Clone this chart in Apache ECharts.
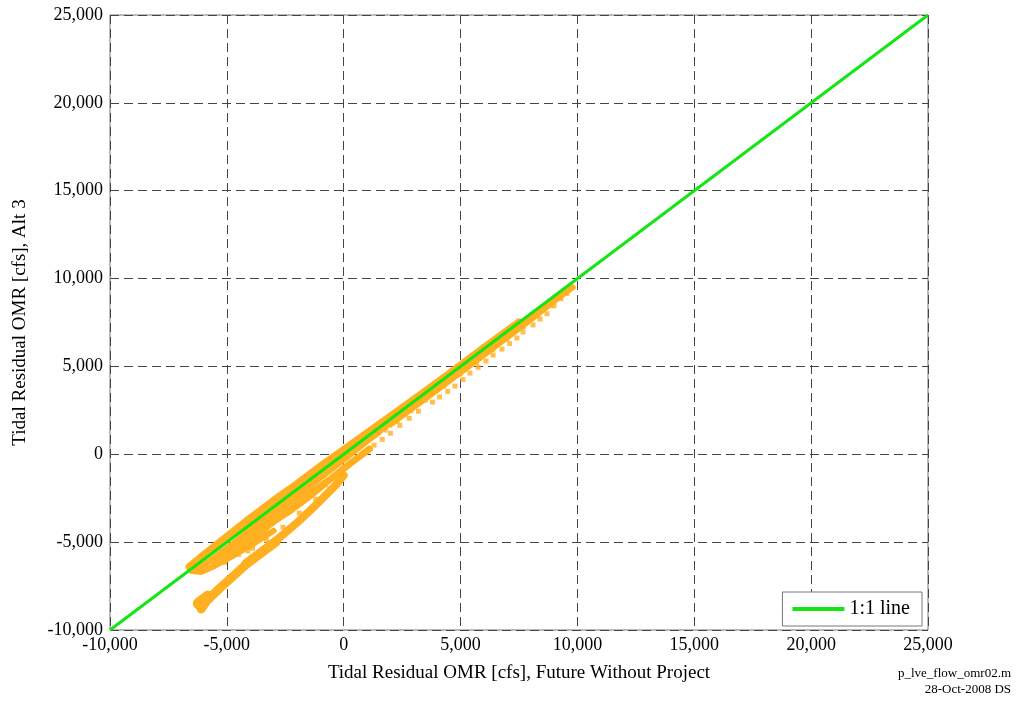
<!DOCTYPE html>
<html><head><meta charset="utf-8">
<script src="https://cdn.jsdelivr.net/npm/echarts@6/dist/echarts.min.js"></script>
<style>html,body{margin:0;padding:0;background:#fff}#c{width:1018px;height:711px}</style>
</head><body><div id="c"></div>
<script>
const xTicks = [-10000, -5000, 0, 5000, 10000, 15000, 20000, 25000];
const yTicks = [-10000, -5000, 0, 5000, 10000, 15000, 20000, 25000];
const oneToOne = [[-10000, -10000], [25000, 25000]];

// orange strands (residual OMR, Alt 3 vs FWOP)
const bandTop = [[-6600,-6400],[-6000,-5750],[-5000,-4700],[-4000,-3650],[-3000,-2650],[-2000,-1700],[-1000,-700],[0,250],[1000,1200],[2000,2150],[3000,3100],[4500,4550],[6000,6050],[7500,7500]];
const bandBelow = [[-6200,-6500],[-5000,-5350],[-4000,-4350],[-3000,-3400],[-2000,-2400],[-1000,-1350],[0,-300],[1000,750],[2000,1800],[3000,2800],[4000,3800],[5000,4800],[6000,5800],[7000,6800],[8000,7750],[9000,8750],[9800,9500]];
const bandDiverge = [[2000,1600],[4000,3550],[6000,5550],[8000,7550],[9600,9250]];
const strandL2 = [[-5200,-5900],[-4400,-5150],[-3500,-4300],[-2500,-3350],[-1500,-2300],[-500,-1350],[300,-500],[1100,300]];
const strandL3 = [[-4500,-5500],[-3600,-4550],[-3000,-3800],[-2300,-3250],[-1500,-2450],[-800,-1700]];
const strandL4 = [[-4200,-6200],[-3500,-5500],[-2800,-4800],[-2000,-3900],[-1200,-2900],[-300,-1700],[0,-1200]];
const strandMid = [[-5600,-6100],[-4700,-5100],[-3800,-4000],[-2800,-2950],[-1800,-1950],[-800,-950],[200,0],[1500,1250]];
const tail = [[-6100,-8800],[-5900,-8400],[-5600,-8000],[-5200,-7500],[-4700,-6900],[-4200,-6300],[-3600,-5700],[-2900,-5000]];
const tailBlob = [[-6200,-8500],[-5800,-8100]];
const hook = [[-6400,-6500],[-6500,-6650],[-6100,-6700],[-5600,-6400],[-4900,-5900],[-4000,-5200],[-3000,-4350]];
const looseDots = [[-4100,-5500],[-4500,-5700],[-3900,-5350],[-5100,-6150],[-3300,-4900],[-2600,-4150],[-1900,-3350],[-1200,-2550],[-600,-1950]];
const dotsLow = [[1300,520],[1650,850],[2000,1200],[2400,1650],[2800,2050],[3200,2450],[3800,2970],[4100,3260],[4450,3580],[4760,3880],[5100,4250],[5400,4620],[5750,4950],[6090,5310],[6390,5650],[6770,5990],[7100,6300],[7410,6620],[7670,6960],[8100,7360],[8400,7700],[8700,8000],[9000,8450],[9300,8850],[9550,9150]];
const dotsMid = [[1800,1350],[2300,1850],[2900,2450],[3500,3050],[4300,3850],[5000,4550],[5700,5200],[6400,5950],[7000,6550],[7700,7250],[8300,7850],[8900,8450]];

const ORANGE = '#ffb020';
const GREEN = '#14e614';
const FONT = '"Liberation Serif", "Times New Roman", serif';
const fmt = v => (v < 0 ? '-' : '') + Math.abs(v).toLocaleString('en-US');

function strand(data, w) {
  return { type: 'line', data, showSymbol: false, silent: true, z: 2,
    lineStyle: { color: ORANGE, width: w, cap: 'round', join: 'round' }, itemStyle: { color: ORANGE } };
}
function dots(data, s) {
  return { type: 'scatter', data, symbol: 'rect', symbolSize: s, z: 2, silent: true, itemStyle: { color: ORANGE } };
}

const chart = echarts.init(document.getElementById('c'), null, { renderer: 'canvas' });
const axisCommon = {
  type: 'value', min: -10000, max: 25000, interval: 5000,
  axisLine: { show: false }, axisTick: { show: false },
  splitLine: { show: true, lineStyle: { color: '#444', type: [9, 5], width: 1 } },
  axisLabel: { color: '#000', fontFamily: FONT, fontSize: 18, formatter: fmt },
  nameTextStyle: { color: '#000', fontFamily: FONT, fontSize: 19 }
};
chart.setOption({
  animation: false,
  backgroundColor: '#fff',
  grid: { left: 110, right: 90, top: 15, bottom: 81, show: true, borderColor: '#777', borderWidth: 1, backgroundColor: '#fff' },
  xAxis: Object.assign({}, axisCommon, {
    name: 'Tidal Residual OMR [cfs], Future Without Project', nameLocation: 'middle', nameGap: 34,
    axisLabel: Object.assign({}, axisCommon.axisLabel, { margin: 6, customValues: xTicks })
  }),
  yAxis: Object.assign({}, axisCommon, {
    name: 'Tidal Residual OMR [cfs], Alt 3', nameLocation: 'middle', nameGap: 80,
    axisLabel: Object.assign({}, axisCommon.axisLabel, { margin: 7, customValues: yTicks })
  }),
  legend: {
    data: ['1:1 line'], right: 96, bottom: 85, orient: 'vertical',
    backgroundColor: '#fff', borderColor: '#777', borderWidth: 1, padding: [7, 12, 7, 10],
    itemWidth: 52, itemHeight: 4, icon: 'rect', itemGap: 0,
    textStyle: { fontFamily: FONT, fontSize: 20, color: '#000' }
  },
  graphic: [
    { type: 'text', right: 7, top: 667, style: { text: 'p_lve_flow_omr02.m', font: '13px ' + FONT, fill: '#000', textAlign: 'right' } },
    { type: 'text', right: 7, top: 683, style: { text: '28-Oct-2008 DS', font: '13px ' + FONT, fill: '#000', textAlign: 'right' } }
  ],
  series: [
    strand(tailBlob, 12), strand(tail, 9), strand(hook, 6),
    strand(strandL4, 8), strand(strandL3, 6), strand(strandL2, 7), strand(strandMid, 6),
    strand(bandBelow, 6), strand(bandDiverge, 3), strand(bandTop, 8),
    dots(looseDots, 5), dots(dotsLow, 5), dots(dotsMid, 4),
    { name: '1:1 line', type: 'line', data: oneToOne, showSymbol: false, z: 5,
      lineStyle: { color: GREEN, width: 3 }, itemStyle: { color: GREEN } }
  ]
});
</script></body></html>
